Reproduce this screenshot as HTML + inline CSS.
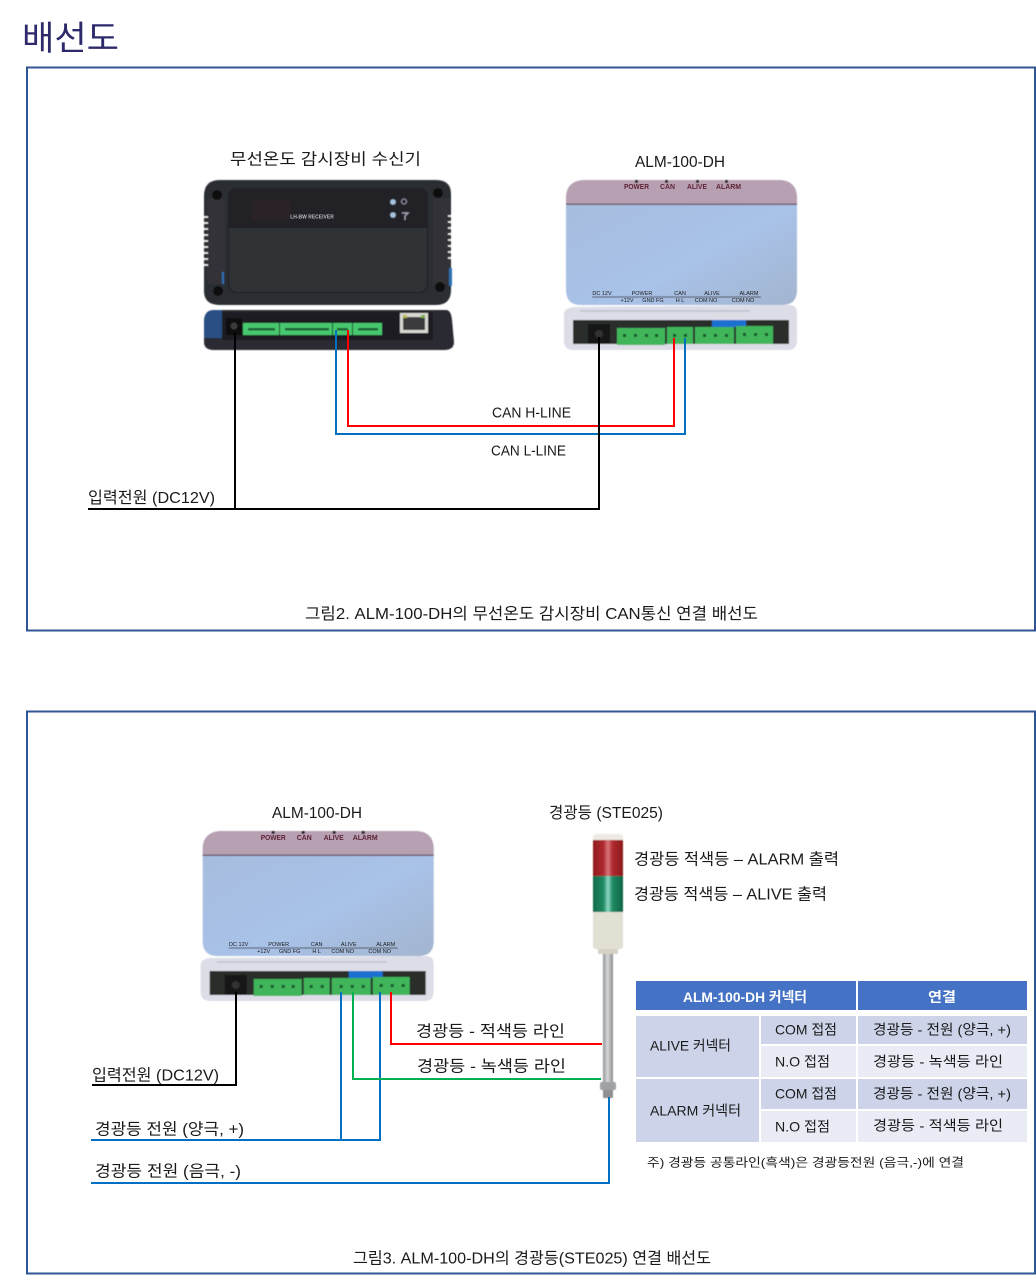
<!DOCTYPE html>
<html lang="ko"><head><meta charset="utf-8"><title>배선도</title>
<style>
html,body{margin:0;padding:0;background:#fff}
svg{display:block}
text{font-family:"Liberation Sans","Noto Sans CJK KR",sans-serif;fill:#1a1a1a;dominant-baseline:central}
</style></head>
<body>
<svg width="1036" height="1279" viewBox="0 0 1036 1279" xmlns="http://www.w3.org/2000/svg">
<defs>
<filter id="b" x="-5%" y="-5%" width="110%" height="110%"><feGaussianBlur stdDeviation="0.55"/></filter>
<linearGradient id="blue" x1="0" y1="0" x2="1" y2="1"><stop offset="0" stop-color="#a6bcdd"/><stop offset=".6" stop-color="#a9c2e8"/><stop offset="1" stop-color="#a3b5cf"/></linearGradient>
<linearGradient id="red" x1="0" y1="0" x2="1" y2="0"><stop offset="0" stop-color="#8e1b1e"/><stop offset=".35" stop-color="#b02a2e"/><stop offset=".5" stop-color="#d9777c"/><stop offset=".65" stop-color="#b02a2e"/><stop offset="1" stop-color="#8a1a1c"/></linearGradient>
<linearGradient id="grn" x1="0" y1="0" x2="1" y2="0"><stop offset="0" stop-color="#0f6b4a"/><stop offset=".35" stop-color="#1f8a63"/><stop offset=".5" stop-color="#8fd8c2"/><stop offset=".65" stop-color="#1f8a63"/><stop offset="1" stop-color="#0d6647"/></linearGradient>
<linearGradient id="pole" x1="0" y1="0" x2="1" y2="0"><stop offset="0" stop-color="#8e9092"/><stop offset=".45" stop-color="#d8dadb"/><stop offset="1" stop-color="#8b8d8e"/></linearGradient>
<g id="dev">
 <g filter="url(#b)">
 <path d="M566 198q0-18 20-18h192q19 0 19 18v92q0 15-15 15H581q-15 0-15-15z" fill="url(#blue)"/>
 <path d="M566 204v-6q0-18 20-18h192q19 0 19 18v6z" fill="#b8a0b3"/>
 <rect x="566" y="203.500" width="231" height="1.500" fill="#6f5a70"/>
 <rect x="592" y="296.500" width="169" height="1" fill="#333"/>
 <g fill="#222"><rect x="635" y="180" width="3" height="3"/><rect x="665" y="180" width="3" height="3"/><rect x="696" y="180" width="3" height="3"/><rect x="725" y="180" width="3" height="3"/></g>
 <path d="M564 314q0-6 10-7l215-2q8 0 8 8v27q0 10-9 10H574q-10 0-10-9z" fill="#dcdde7"/>
 <path d="M580 311h170" stroke="#bfc2cd" stroke-width="1.500"/>
 <rect x="573" y="320" width="216" height="24" fill="#2a2d2c"/>
 <rect x="712" y="320" width="34" height="7" fill="#1f6fd0"/>
 <rect x="588" y="324" width="22" height="20" fill="#151515"/>
 <circle cx="599" cy="334" r="4" fill="#333"/>
 <rect x="617" y="328" width="48" height="17" fill="#3fb55a"/>
 <rect x="667" y="327" width="26" height="17" fill="#3fb55a"/>
 <rect x="695" y="327" width="39" height="17" fill="#3fb55a"/>
 <rect x="736" y="326" width="37" height="18" fill="#3fb55a"/>
 <g fill="#14532b">
  <rect x="623" y="334" width="3" height="3"/><rect x="634" y="334" width="3" height="3"/><rect x="645" y="334" width="3" height="3"/><rect x="655" y="334" width="3" height="3"/>
  <rect x="673" y="334" width="3" height="3"/><rect x="684" y="334" width="3" height="3"/>
  <rect x="703" y="334" width="3" height="3"/><rect x="714" y="334" width="3" height="3"/><rect x="725" y="334" width="3" height="3"/>
  <rect x="743" y="333" width="3" height="3"/><rect x="754" y="333" width="3" height="3"/><rect x="765" y="333" width="3" height="3"/>
 </g>
 </g>
 <g font-weight="700">
  <text x="624" y="187.500" textLength="25" lengthAdjust="spacingAndGlyphs" style="font-size:7px;fill:#5d2436">POWER</text>
  <text x="660" y="187.500" textLength="15" lengthAdjust="spacingAndGlyphs" style="font-size:7px;fill:#5d2436">CAN</text>
  <text x="687" y="187.500" textLength="20" lengthAdjust="spacingAndGlyphs" style="font-size:7px;fill:#5d2436">ALIVE</text>
  <text x="716" y="187.500" textLength="25" lengthAdjust="spacingAndGlyphs" style="font-size:7px;fill:#5d2436">ALARM</text>
 </g>
 <g style="font-size:5.500px" text-anchor="middle">
  <text x="602" y="294">DC 12V</text><text x="642" y="294">POWER</text><text x="680" y="294">CAN</text><text x="712" y="294">ALIVE</text><text x="749" y="294">ALARM</text>
  <text x="627" y="301">+12V</text><text x="653" y="301">GND FG</text><text x="680" y="301">H  L</text><text x="706" y="301">COM NO</text><text x="743" y="301">COM NO</text>
 </g>
</g>
</defs>

<text x="22" y="39" textLength="97" lengthAdjust="spacingAndGlyphs" style="font-size:34px;fill:#2c2a6a">배선도</text>
<rect x="27" y="67.500" width="1008" height="563" fill="none" stroke="#2f5597" stroke-width="2"/>
<rect x="27" y="711.500" width="1008" height="562" fill="none" stroke="#2f5597" stroke-width="2"/>

<!-- receiver -->
<g filter="url(#b)">
 <path d="M204 196q0-16 16-16h216q15 0 15 14v96q0 15-15 15H220q-16 0-16-14z" fill="#2b2d33"/>
 <rect x="207" y="198" width="18" height="86" rx="3" fill="#303238"/>
 <rect x="433" y="198" width="17" height="86" rx="3" fill="#303238"/>
 <rect x="222" y="272" width="2" height="12" fill="#2d6fb3"/>
 <rect x="449" y="268" width="3" height="18" fill="#2d6fb3"/>
 <path d="M204 217h4M204 223h4M204 229h4M204 235h4M204 241h4M204 247h4M204 253h4M204 259h4M204 265h4" stroke="#fff" stroke-width="1.600"/>
 <path d="M448 216h4M448 222h4M448 228h4M448 234h4M448 240h4M448 246h4M448 252h4M448 258h4" stroke="#fff" stroke-width="1.600"/>
 <circle cx="217" cy="195" r="5" fill="#0c0c0e"/><circle cx="438" cy="193" r="5" fill="#0c0c0e"/>
 <circle cx="218" cy="291" r="5" fill="#0c0c0e"/><circle cx="440" cy="287" r="5" fill="#0c0c0e"/>
 <rect x="228.500" y="188.500" width="199" height="104" rx="8" fill="#2e3036" stroke="#1b1c20"/>
 <path d="M229 196q0-7 7-7h184q7 0 7 7v32H229z" fill="#202228"/>
 <rect x="252" y="200" width="38" height="20" fill="#2c2226"/>
 <circle cx="393" cy="202" r="2.800" fill="#a6c3dd"/><circle cx="393" cy="215" r="2.800" fill="#a6c3dd"/>
 <circle cx="404" cy="201.500" r="2.500" fill="none" stroke="#99a" stroke-width="1"/>
 <path d="M402 213h6l-3 3v4" fill="none" stroke="#aab" stroke-width="1.200"/>
 <path d="M204 322q0-12 10-12h232q5 0 6 10l2 22q0 8-10 8H214q-10 0-10-8z" fill="#2a2c32"/>
 <path d="M204 322q0-12 10-12h8v28h-18z" fill="#2c4f85"/>
 <rect x="222" y="312" width="211" height="28" fill="#1d1e21"/>
 <rect x="226" y="318" width="16" height="17" fill="#0d0d0e"/>
 <circle cx="234" cy="326" r="3.500" fill="#3b3b3b"/>
 <rect x="243" y="323" width="36" height="12" fill="#46c86e"/>
 <rect x="280" y="323" width="52" height="12" fill="#46c86e"/>
 <rect x="333" y="323" width="19" height="12" fill="#46c86e"/>
 <rect x="353" y="323" width="29" height="12" fill="#46c86e"/>
 <g fill="#1b5e33"><rect x="248" y="328" width="27" height="2.500"/><rect x="285" y="328" width="44" height="2.500"/><rect x="337" y="328" width="11" height="2.500"/><rect x="358" y="328" width="20" height="2.500"/></g>
 <rect x="400" y="313" width="28" height="20" fill="#d8d8d2"/>
 <rect x="403" y="317" width="22" height="13" fill="#3a3b3c"/>
 <rect x="403" y="315" width="4" height="3" fill="#b9b84a"/><rect x="421" y="315" width="4" height="3" fill="#7ca94a"/>
</g>
<text x="312" y="217.500" text-anchor="middle" font-weight="700" style="font-size:5px;fill:#b8bcc4">LH-BW RECEIVER</text>

<!-- ALM device top -->
<use href="#dev"/>

<!-- ALM device bottom -->
<use href="#dev" transform="translate(-363.300 651)"/>

<!-- top wires -->
<g fill="none" stroke-width="2">
 <path d="M336 330V434H685V338" stroke="#0070c0"/>
 <path d="M348 330V426H674V338" stroke="#ff0000"/>
 <path d="M88 509H599V337" stroke="#000"/>
 <path d="M235 333V509" stroke="#000"/>
</g>

<text x="230" y="160" textLength="191" lengthAdjust="spacingAndGlyphs" style="font-size:16px">무선온도 감시장비 수신기</text>
<text x="635" y="162.500" textLength="90" lengthAdjust="spacingAndGlyphs" style="font-size:16px">ALM-100-DH</text>
<text x="492" y="413.500" textLength="79" lengthAdjust="spacingAndGlyphs" style="font-size:14.500px">CAN H-LINE</text>
<text x="491" y="451.500" textLength="75" lengthAdjust="spacingAndGlyphs" style="font-size:14.500px">CAN L-LINE</text>
<text x="88" y="498.500" textLength="127" lengthAdjust="spacingAndGlyphs" style="font-size:16px">입력전원 (DC12V)</text>
<text x="305" y="614.500" textLength="453" lengthAdjust="spacingAndGlyphs" style="font-size:16px">그림2. ALM-100-DH의 무선온도 감시장비 CAN통신 연결 배선도</text>

<!-- stack light -->
<g filter="url(#b)">
 <rect x="593" y="834" width="30" height="8" rx="3" fill="#eceae2"/>
 <rect x="593" y="840" width="30" height="36" fill="url(#red)"/>
 <rect x="593" y="876" width="30" height="36" fill="url(#grn)"/>
 <path d="M593 912h30v34q0 3-3 3h-24q-3 0-3-3z" fill="#e2dfd3"/>
 <rect x="598" y="949" width="20" height="5" fill="#d6d3c6"/>
 <rect x="603" y="954" width="10" height="128" fill="url(#pole)"/>
 <rect x="600" y="1082" width="16" height="8" rx="2" fill="#a0a1a2"/>
 <rect x="603" y="1090" width="10" height="8" fill="#8e9093"/>
</g>

<!-- bottom wires -->
<g fill="none" stroke-width="2">
 <path d="M92 1085H236V992" stroke="#000"/>
 <path d="M91 1140H380V992" stroke="#0070c0"/>
 <path d="M341 1140V992" stroke="#0070c0"/>
 <path d="M353 992V1079H601" stroke="#00b050"/>
 <path d="M391 992V1044H602" stroke="#ff0000"/>
 <path d="M91 1183H609V1097" stroke="#0070c0"/>
</g>

<text x="272" y="813.500" textLength="90" lengthAdjust="spacingAndGlyphs" style="font-size:16px">ALM-100-DH</text>
<text x="549" y="813.500" textLength="114" lengthAdjust="spacingAndGlyphs" style="font-size:16px">경광등 (STE025)</text>
<text x="634" y="860" textLength="205" lengthAdjust="spacingAndGlyphs" style="font-size:16px">경광등 적색등 – ALARM 출력</text>
<text x="634" y="895" textLength="193" lengthAdjust="spacingAndGlyphs" style="font-size:16px">경광등 적색등 – ALIVE 출력</text>
<text x="416" y="1032" textLength="149" lengthAdjust="spacingAndGlyphs" style="font-size:16px">경광등 - 적색등 라인</text>
<text x="417" y="1067" textLength="149" lengthAdjust="spacingAndGlyphs" style="font-size:16px">경광등 - 녹색등 라인</text>
<text x="92" y="1076" textLength="127" lengthAdjust="spacingAndGlyphs" style="font-size:16px">입력전원 (DC12V)</text>
<text x="95" y="1130" textLength="149" lengthAdjust="spacingAndGlyphs" style="font-size:16px">경광등 전원 (양극, +)</text>
<text x="95" y="1172" textLength="146" lengthAdjust="spacingAndGlyphs" style="font-size:16px">경광등 전원 (음극, -)</text>
<text x="353" y="1259" textLength="358" lengthAdjust="spacingAndGlyphs" style="font-size:16px">그림3. ALM-100-DH의 경광등(STE025) 연결 배선도</text>

<!-- table -->
<rect x="636" y="981" width="220" height="29" fill="#4472c4"/>
<rect x="858" y="981" width="169" height="29" fill="#4472c4"/>
<rect x="636" y="1016" width="123" height="61" fill="#cdd4ea"/>
<rect x="636" y="1079" width="123" height="63" fill="#cdd4ea"/>
<rect x="761" y="1016" width="95" height="28" fill="#cdd4ea"/>
<rect x="858" y="1016" width="169" height="28" fill="#cdd4ea"/>
<rect x="761" y="1046" width="95" height="31" fill="#e9ebf5"/>
<rect x="858" y="1046" width="169" height="31" fill="#e9ebf5"/>
<rect x="761" y="1079" width="95" height="30" fill="#cdd4ea"/>
<rect x="858" y="1079" width="169" height="30" fill="#cdd4ea"/>
<rect x="761" y="1111" width="95" height="31" fill="#e9ebf5"/>
<rect x="858" y="1111" width="169" height="31" fill="#e9ebf5"/>

<g style="font-size:14px">
<text x="683" y="997" textLength="124" lengthAdjust="spacingAndGlyphs" font-weight="700" style="fill:#fff">ALM-100-DH 커넥터</text>
<text x="928" y="997" textLength="28" lengthAdjust="spacingAndGlyphs" font-weight="700" style="fill:#fff">연결</text>
<text x="650" y="1045.500" textLength="81" lengthAdjust="spacingAndGlyphs">ALIVE 커넥터</text>
<text x="650" y="1110.500" textLength="91" lengthAdjust="spacingAndGlyphs">ALARM 커넥터</text>
<text x="775" y="1029.500" textLength="62" lengthAdjust="spacingAndGlyphs">COM 접점</text>
<text x="775" y="1061.500" textLength="55" lengthAdjust="spacingAndGlyphs">N.O 접점</text>
<text x="775" y="1093.500" textLength="62" lengthAdjust="spacingAndGlyphs">COM 접점</text>
<text x="775" y="1126.500" textLength="55" lengthAdjust="spacingAndGlyphs">N.O 접점</text>
<text x="873" y="1029.500" textLength="138" lengthAdjust="spacingAndGlyphs">경광등 - 전원 (양극, +)</text>
<text x="873" y="1061.500" textLength="130" lengthAdjust="spacingAndGlyphs">경광등 - 녹색등 라인</text>
<text x="873" y="1093.500" textLength="138" lengthAdjust="spacingAndGlyphs">경광등 - 전원 (양극, +)</text>
<text x="873" y="1125.500" textLength="130" lengthAdjust="spacingAndGlyphs">경광등 - 적색등 라인</text>
</g>
<text x="647" y="1162.500" textLength="317" lengthAdjust="spacingAndGlyphs" style="font-size:12px">주) 경광등 공통라인(흑색)은 경광등전원 (음극,-)에 연결</text>
</svg>
</body></html>
